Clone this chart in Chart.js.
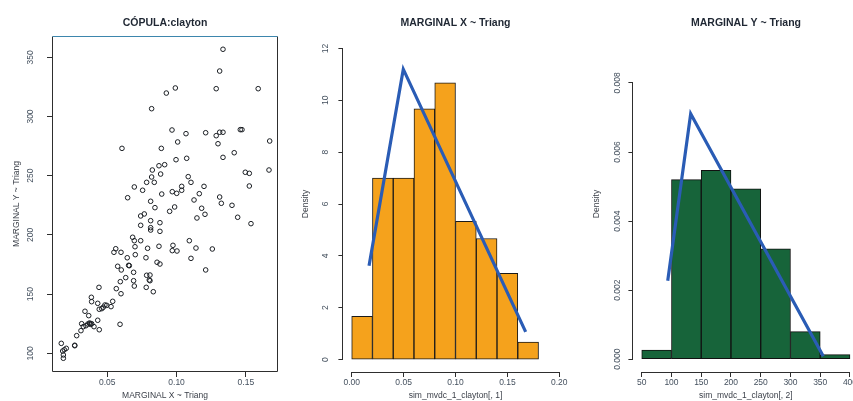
<!DOCTYPE html>
<html>
<head>
<meta charset="utf-8">
<script src="https://cdn.jsdelivr.net/npm/chart.js@4.4.1/dist/chart.umd.min.js"></script>
<style>
  html, body { margin: 0; padding: 0; background: #ffffff; overflow: hidden; width: 853px; height: 401px; }
  .panel { position: absolute; top: 0; }
  canvas { display: block; }
</style>
</head>
<body>
<div class="panel" style="left:0px"><canvas id="cop" width="330" height="401"></canvas></div>
<div class="panel" style="left:290px"><canvas id="histX" width="331" height="401"></canvas></div>
<div class="panel" style="left:580px"><canvas id="histY" width="332" height="401"></canvas></div>
<script>
// Simulated sample from the Clayton copula (150 draws)
const copulaX = [
  0.1335, 0.1311, 0.0991, 0.0926, 0.1286, 0.1589, 0.0820, 0.0967, 0.1068, 0.1210,
  0.1286, 0.1311, 0.1335, 0.1460, 0.1472, 0.1672, 0.1008, 0.1299, 0.0606, 0.0890,
  0.1335, 0.1416, 0.0996, 0.1073, 0.0873, 0.0914, 0.0825, 0.0885, 0.0820, 0.0784,
  0.0839, 0.1084, 0.1104, 0.1496, 0.1525, 0.1667, 0.0695, 0.0755, 0.1037, 0.1037,
  0.0969, 0.1001, 0.1198, 0.1525, 0.0893, 0.1164, 0.0647, 0.0813, 0.1311, 0.1126,
  0.1323, 0.1400, 0.0844, 0.0986, 0.0950, 0.1181, 0.1205, 0.0767, 0.0741, 0.1147,
  0.1441, 0.0813, 0.0880, 0.1537, 0.0741, 0.0813, 0.0813, 0.0880, 0.0683, 0.0695,
  0.0741, 0.1092, 0.0561, 0.0700, 0.0791, 0.0873, 0.0974, 0.1140, 0.1258, 0.0548,
  0.0599, 0.0969, 0.1003, 0.0644, 0.0702, 0.0779, 0.0859, 0.0880, 0.1104, 0.0575,
  0.0654, 0.0659, 0.0601, 0.0690, 0.0784, 0.0808, 0.0633, 0.0594, 0.0690, 0.0803,
  0.0808, 0.1210, 0.0695, 0.0781, 0.0440, 0.0565, 0.0599, 0.0832, 0.0385, 0.0387,
  0.0431, 0.0539, 0.0483, 0.0496, 0.0471, 0.0460, 0.0527, 0.0442, 0.0339, 0.0366,
  0.0315, 0.0359, 0.0375, 0.0387, 0.0346, 0.0327, 0.0431, 0.0404, 0.0442, 0.0310,
  0.0592, 0.0279, 0.0168, 0.0204, 0.0190, 0.0265, 0.0178, 0.0183, 0.0183, 0.0265,
  0.0372, 0.0381
];
const copulaY = [
  356.8, 338.4, 324.1, 319.8, 323.5, 323.5, 306.6, 288.6, 285.5, 286.3,
  283.8, 286.7, 286.7, 288.9, 288.9, 279.3, 278.5, 277.0, 273.1, 273.1,
  265.5, 269.4, 263.5, 264.7, 258.4, 259.3, 254.8, 251.4, 248.9, 244.4,
  244.4, 249.2, 244.4, 252.9, 252.0, 254.8, 240.5, 237.7, 241.0, 237.7,
  236.5, 235.1, 241.0, 241.3, 234.5, 234.8, 231.4, 228.4, 232.0, 229.5,
  226.7, 225.0, 223.0, 223.6, 219.9, 222.5, 217.4, 217.7, 216.0, 214.3,
  214.9, 212.0, 210.3, 209.5, 208.1, 206.1, 204.1, 203.0, 198.0, 195.1,
  195.1, 195.1, 188.3, 190.0, 188.7, 190.4, 191.2, 188.9, 188.1, 185.3,
  185.3, 186.7, 186.4, 180.7, 183.3, 180.7, 176.9, 175.4, 180.2, 173.5,
  174.3, 174.0, 170.4, 168.4, 165.9, 166.1, 163.9, 160.5, 161.3, 161.9,
  161.3, 170.4, 156.8, 155.7, 155.7, 154.6, 150.3, 152.0, 147.3, 143.6,
  142.2, 143.9, 140.8, 140.5, 138.9, 137.7, 139.4, 137.2, 135.5, 131.8,
  125.0, 124.7, 125.0, 125.0, 123.3, 122.5, 127.9, 122.5, 119.9, 119.1,
  124.5, 114.9, 108.4, 104.2, 103.0, 106.4, 101.9, 98.6, 95.8, 106.8,
  125.6, 124.4
];
const copulaXTicks = [0.05, 0.10, 0.15];
const copulaYTicks = [100, 150, 200, 250, 300, 350];

// Histogram of margin X (bin mid-points, densities) and fitted triangular density
const histXMids = [0.01, 0.03, 0.05, 0.07, 0.09, 0.11, 0.13, 0.15, 0.17];
const histXDensity = [1.67, 7.0, 7.0, 9.67, 10.67, 5.33, 4.67, 3.33, 0.67];
const triangXx = [0.0167, 0.0497, 0.1676];
const triangXy = [3.62, 11.2, 1.07];
const histXTicksX = [0.00, 0.05, 0.10, 0.15, 0.20];
const histXTicksY = [0, 2, 4, 6, 8, 10, 12];

// Histogram of margin Y (bin mid-points, densities) and fitted triangular density
const histYMids = [75, 125, 175, 225, 275, 325, 375];
const histYDensity = [0.000267, 0.0052, 0.005467, 0.004933, 0.0032, 0.0008, 0.000133];
const triangYx = [93.7, 132.3, 355.2];
const triangYy = [0.00227, 0.00711, 0.000087];
const histYTicksX = [50, 100, 150, 200, 250, 300, 350, 400];
const histYTicksY = [0.000, 0.002, 0.004, 0.006, 0.008];

const FONT = "'Liberation Sans', Arial, Helvetica, sans-serif";
const tickColor = '#44505e';
const axisColor = '#2e2e2e';

// Base-graphics style axes: a line from first to last tick, optional box
const rAxes = {
  id: 'rAxes',
  afterDraw(chart, args, opts) {
    const ctx = chart.ctx;
    ctx.save();
    ctx.lineWidth = 1;
    if (opts.box) {
      const a = chart.chartArea;
      const l = Math.round(a.left) + 0.5, r = Math.round(a.right) - 0.5;
      const t = Math.round(a.top) + 0.5, b = Math.round(a.bottom) - 0.5;
      ctx.strokeStyle = axisColor;
      ctx.beginPath();
      ctx.moveTo(r, t); ctx.lineTo(r, b); ctx.lineTo(l, b); ctx.lineTo(l, t);
      ctx.stroke();
      ctx.strokeStyle = opts.topColor || axisColor;
      ctx.beginPath();
      ctx.moveTo(l, t); ctx.lineTo(r, t);
      ctx.stroke();
    }
    ctx.strokeStyle = axisColor;
    (opts.axes || []).forEach(id => {
      const s = chart.scales[id];
      const tk = s.ticks;
      const p0 = s.getPixelForValue(tk[0].value);
      const p1 = s.getPixelForValue(tk[tk.length - 1].value);
      ctx.beginPath();
      if (s.isHorizontal()) {
        const y = Math.round(s.top) + 0.5;
        ctx.moveTo(p0, y); ctx.lineTo(p1, y);
      } else {
        const x = Math.round(s.right) - 0.5;
        ctx.moveTo(x, p0); ctx.lineTo(x, p1);
      }
      ctx.stroke();
    });
    ctx.restore();
  }
};

function fixedTicks(values) {
  return scale => { scale.ticks = values.map(v => ({ value: v })); };
}

function xScale(min, max, ticks, fmt, title) {
  return {
    type: 'linear', position: 'bottom', min, max, offset: false,
    afterBuildTicks: fixedTicks(ticks),
    afterFit: s => { s.height = 29; },
    grid: { drawOnChartArea: false, drawTicks: true, tickLength: 5, color: axisColor, offset: false },
    border: { display: false },
    ticks: { autoSkip: false, maxRotation: 0, minRotation: 0, padding: 1, color: tickColor,
             font: { family: FONT, size: 8.5 }, callback: v => fmt(v) },
    title: { display: true, text: title, color: '#3a3f48', font: { family: FONT, size: 8.5 },
             padding: { top: 0, bottom: 0 } }
  };
}

function yScale(min, max, ticks, fmt, title, width, pad, titlePad) {
  return {
    type: 'linear', position: 'left', min, max,
    afterBuildTicks: fixedTicks(ticks),
    afterFit: s => { s.width = width; },
    grid: { drawOnChartArea: false, drawTicks: true, tickLength: 5, color: axisColor },
    border: { display: false },
    ticks: { autoSkip: false, minRotation: 90, maxRotation: 90, crossAlign: 'center', padding: pad,
             color: tickColor, font: { family: FONT, size: 8.5 }, callback: v => fmt(v) },
    title: { display: true, text: title, color: '#3a3f48', font: { family: FONT, size: 8.5 },
             padding: { top: titlePad, bottom: 0 } }
  };
}

function spacer(width) {
  return {
    type: 'linear', position: 'right', display: true,
    afterFit: s => { s.width = width; },
    grid: { display: false }, border: { display: false }, ticks: { display: false }
  };
}

function titleOpts(text) {
  return {
    display: true, text, color: '#1f2733',
    font: { family: FONT, size: 10.5, weight: 'bold', lineHeight: 1.2 },
    padding: { top: 16.7, bottom: 6.7 }
  };
}

const common = {
  responsive: false,
  animation: false,
  events: [],
  layout: { padding: 0 }
};

// Panel 1: scatter of the copula sample
new Chart(document.getElementById('cop'), {
  type: 'scatter',
  data: {
    datasets: [{
      data: copulaX.map((x, i) => ({ x, y: copulaY[i] })),
      pointStyle: 'circle', pointRadius: 2.3, borderWidth: 1,
      borderColor: '#1b1f24', backgroundColor: 'rgba(0,0,0,0)'
    }]
  },
  options: Object.assign({}, common, {
    scales: {
      x: xScale(0.0101, 0.1732, copulaXTicks, v => v.toFixed(2), 'MARGINAL X ~ Triang'),
      y: yScale(84.2, 368, copulaYTicks, v => String(v), 'MARGINAL Y ~ Triang', 52, 8.9, 11.4),
      r: spacer(52)
    },
    plugins: {
      legend: { display: false }, tooltip: { enabled: false },
      title: titleOpts('CÓPULA:clayton'),
      rAxes: { box: true, topColor: '#3d86ad', axes: [] }
    }
  }),
  plugins: [rAxes]
});

// Panel 2: histogram of margin X with triangular density
new Chart(document.getElementById('histX'), {
  type: 'bar',
  data: {
    datasets: [{
      type: 'line', order: 0,
      data: triangXx.map((x, i) => ({ x, y: triangXy[i] })),
      borderColor: '#2a5cb5', borderWidth: 3.2, pointRadius: 0, fill: false,
      tension: 0, borderJoinStyle: 'miter', borderCapStyle: 'butt'
    }, {
      type: 'bar', order: 1,
      data: histXMids.map((x, i) => ({ x, y: histXDensity[i] })),
      backgroundColor: '#f5a21c', borderColor: '#1a1a1a', borderWidth: 1,
      borderSkipped: false, barPercentage: 1, categoryPercentage: 1, grouped: false
    }]
  },
  options: Object.assign({}, common, {
    scales: {
      x: xScale(-0.008, 0.208, histXTicksX, v => v.toFixed(2), 'sim_mvdc_1_clayton[, 1]'),
      y: yScale(-0.48, 12.48, histXTicksY, v => String(v), 'Density', 53.4, 8, 10.9),
      r: spacer(53.4)
    },
    plugins: {
      legend: { display: false }, tooltip: { enabled: false },
      title: titleOpts('MARGINAL X ~ Triang'),
      rAxes: { box: false, axes: ['x', 'y'] }
    }
  }),
  plugins: [rAxes]
});

// Panel 3: histogram of margin Y with triangular density
new Chart(document.getElementById('histY'), {
  type: 'bar',
  data: {
    datasets: [{
      type: 'line', order: 0,
      data: triangYx.map((x, i) => ({ x, y: triangYy[i] })),
      borderColor: '#2a5cb5', borderWidth: 3.2, pointRadius: 0, fill: false,
      tension: 0, borderJoinStyle: 'miter', borderCapStyle: 'butt'
    }, {
      type: 'bar', order: 1,
      data: histYMids.map((x, i) => ({ x, y: histYDensity[i] })),
      backgroundColor: '#17643a', borderColor: '#111111', borderWidth: 1,
      borderSkipped: false, barPercentage: 1, categoryPercentage: 1, grouped: false
    }]
  },
  options: Object.assign({}, common, {
    scales: {
      x: xScale(36, 414, histYTicksX, v => String(v), 'sim_mvdc_1_clayton[, 2]'),
      y: yScale(-0.00037, 0.00936, histYTicksY, v => v.toFixed(3), 'Density', 53.4, 0.2, 11.6),
      r: spacer(53.7)
    },
    plugins: {
      legend: { display: false }, tooltip: { enabled: false },
      title: titleOpts('MARGINAL Y ~ Triang'),
      rAxes: { box: false, axes: ['x', 'y'] }
    }
  }),
  plugins: [rAxes]
});
</script>
</body>
</html>
